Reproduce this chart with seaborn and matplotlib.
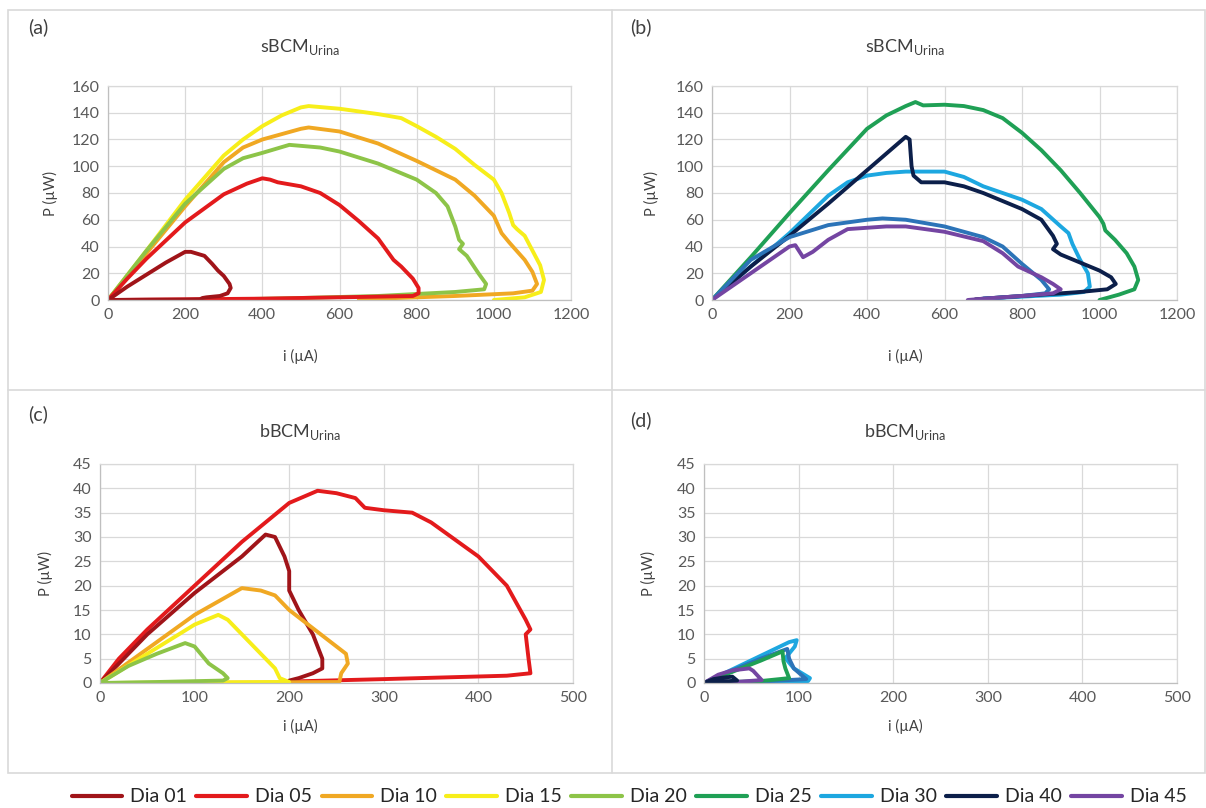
import numpy as np
import pandas as pd
import seaborn as sns
import matplotlib
matplotlib.use("Agg")
import matplotlib.pyplot as plt
from matplotlib.lines import Line2D
from matplotlib.patches import Rectangle

# ---------------- data ----------------
series_names = ["Dia 01", "Dia 05", "Dia 10", "Dia 15", "Dia 20", "Dia 25", "Dia 30", "Dia 40", "Dia 45"]
series_colors = ["#A01419", "#E31A1C", "#F0A823", "#F7EE1A", "#8DC448", "#1FA055", "#1DA7E0", "#0C1F4A", "#7445A2"]
extra_name = "Dia 35"          # unlabelled medium-blue curve
extra_color = "#2C74B8"

# panel (a) sBCM
a_d01_i = [0, 50, 100, 150, 200, 215, 250, 270, 285, 300, 315, 318, 310, 290, 255, 245, 238, 200, 100, 0]
a_d01_p = [0, 10, 19, 28, 36, 36, 33, 27, 22, 18, 12, 9, 5, 3, 2, 1.5, 0.5, 0.3, 0.2, 0]
a_d05_i = [0, 50, 100, 200, 300, 360, 400, 420, 440, 500, 550, 600, 650, 700, 720, 740, 760, 790, 805, 805, 790, 600, 400, 200, 0]
a_d05_p = [0, 16, 31, 58, 79, 87, 91, 90, 88, 85, 80, 71, 59, 46, 38, 30, 25, 16, 9, 5, 3, 2, 1, 0.5, 0]
a_d10_i = [0, 100, 200, 300, 350, 400, 450, 500, 520, 600, 700, 800, 900, 950, 1000, 1020, 1040, 1080, 1100, 1112, 1100, 1050, 900, 750, 650]
a_d10_p = [0, 35, 70, 103, 114, 120, 124, 128, 129, 126, 117, 104, 90, 78, 63, 50, 43, 30, 21, 12, 7, 5, 3, 1.5, 0.5]
a_d15_i = [0, 100, 200, 300, 350, 400, 450, 500, 520, 600, 700, 760, 800, 850, 900, 950, 1000, 1020, 1040, 1050, 1060, 1080, 1100, 1120, 1130, 1122, 1080, 1000]
a_d15_p = [0, 37, 75, 108, 120, 130, 138, 144, 145, 143, 139, 136, 130, 122, 113, 101, 90, 80, 65, 56, 53, 48, 37, 26, 15, 6, 2, 0]
a_d20_i = [0, 100, 200, 300, 350, 400, 470, 550, 600, 700, 800, 850, 880, 900, 910, 920, 910, 930, 960, 980, 975, 900, 700, 500, 330]
a_d20_p = [0, 37, 72, 98, 106, 110, 116, 114, 111, 102, 90, 80, 70, 55, 45, 42, 38, 33, 20, 12, 8, 6, 3, 1.5, 0.5]

# panel (b) sBCM
b_d25_i = [0, 100, 200, 300, 400, 450, 500, 525, 545, 600, 650, 700, 750, 800, 850, 900, 950, 1000, 1010, 1015, 1040, 1070, 1090, 1100, 1090, 1050, 1000]
b_d25_p = [0, 32, 65, 97, 128, 138, 145, 148, 145.5, 146, 145, 142, 136, 125, 112, 97, 80, 62, 57, 52, 45, 35, 25, 15, 8, 4, 0]
b_d30_i = [0, 100, 200, 300, 350, 400, 450, 500, 600, 650, 700, 800, 850, 900, 920, 930, 950, 970, 975, 960, 900, 800, 700]
b_d30_p = [0, 25, 50, 78, 88, 93, 95, 96, 96, 92, 85, 75, 68, 55, 50, 42, 30, 20, 10, 6, 4, 2.5, 1]
b_d40_i = [0, 100, 200, 300, 400, 480, 500, 510, 515, 520, 540, 600, 650, 700, 800, 850, 880, 890, 880, 900, 950, 1000, 1030, 1042, 1020, 950, 850, 750, 680]
b_d40_p = [0, 25, 48, 72, 97, 117, 122, 120, 100, 93, 88, 88, 85, 80, 68, 60, 48, 42, 38, 34, 28, 22, 17, 12, 8, 6, 4, 2, 0.5]
b_d35_i = [0, 100, 200, 300, 400, 440, 500, 600, 700, 750, 800, 850, 870, 860, 800, 700]
b_d35_p = [0, 30, 47, 56, 60, 61, 60, 55, 47, 40, 27, 15, 8, 5, 3, 1]
b_d45_i = [0, 100, 200, 215, 235, 260, 300, 350, 400, 450, 500, 600, 700, 750, 790, 850, 880, 900, 880, 800, 700, 660]
b_d45_p = [0, 20, 40, 41, 32, 36, 45, 53, 54, 55, 55, 51, 44, 35, 25, 17, 12, 8, 5, 3, 1, 0]

# panel (c) bBCM
c_d01_i = [0, 50, 100, 150, 175, 185, 195, 200, 200, 210, 225, 235, 235, 225, 210, 200]
c_d01_p = [0, 10, 18.5, 26, 30.5, 30, 26, 23, 19, 15, 10, 5, 3, 2, 1, 0.5]
c_d05_i = [0, 20, 50, 100, 150, 200, 230, 250, 270, 280, 300, 330, 350, 400, 430, 450, 455, 450, 453, 455, 430, 300, 200]
c_d05_p = [0, 5, 11, 20, 29, 37, 39.5, 39, 38, 36, 35.5, 35, 33, 26, 20, 13, 11, 10, 5, 2, 1.5, 0.8, 0.3]
c_d10_i = [0, 50, 100, 150, 170, 185, 200, 220, 240, 260, 262, 255, 253, 150, 0]
c_d10_p = [0, 7, 14, 19.5, 19, 18, 15, 12, 9, 6, 4, 2, 0.2, 0.1, 0]
c_d15_i = [0, 50, 100, 125, 135, 150, 170, 185, 190, 200, 100, 0]
c_d15_p = [0, 6, 12, 14, 13, 10, 6, 3, 1, 0.2, 0.1, 0]
c_d20_i = [0, 30, 60, 90, 100, 115, 130, 135, 130, 60, 0]
c_d20_p = [0, 3.5, 6, 8.2, 7.5, 4, 2, 1, 0.5, 0.2, 0]

# panel (d) bBCM
d_d25_i = [0, 30, 60, 83, 84, 86, 90, 60, 0]
d_d25_p = [0, 2.3, 4.6, 6.5, 4.5, 3, 1, 0.4, 0]
d_d30_i = [0, 30, 60, 90, 98, 96, 86, 95, 112, 110, 60, 0]
d_d30_p = [0, 2.8, 5.6, 8.4, 8.8, 7.5, 5.1, 3, 1, 0.4, 0.2, 0]
d_d35_i = [0, 30, 60, 88, 90, 95, 108, 60, 0]
d_d35_p = [0, 2.6, 5, 7, 5, 3, 0.8, 0.3, 0]
d_d40_i = [0, 10, 20, 30, 35, 20, 0]
d_d40_p = [0, 0.8, 1.1, 1.3, 0.5, 0.3, 0]
d_d45_i = [0, 15, 30, 48, 52, 61, 40, 0]
d_d45_p = [0, 1.7, 2.6, 3, 2.5, 0.6, 0.3, 0]

panels = {
    "a": [("Dia 15", a_d15_i, a_d15_p), ("Dia 10", a_d10_i, a_d10_p), ("Dia 20", a_d20_i, a_d20_p),
          ("Dia 05", a_d05_i, a_d05_p), ("Dia 01", a_d01_i, a_d01_p)],
    "b": [("Dia 25", b_d25_i, b_d25_p), ("Dia 30", b_d30_i, b_d30_p), ("Dia 40", b_d40_i, b_d40_p),
          ("Dia 35", b_d35_i, b_d35_p), ("Dia 45", b_d45_i, b_d45_p)],
    "c": [("Dia 05", c_d05_i, c_d05_p), ("Dia 01", c_d01_i, c_d01_p), ("Dia 10", c_d10_i, c_d10_p),
          ("Dia 15", c_d15_i, c_d15_p), ("Dia 20", c_d20_i, c_d20_p)],
    "d": [("Dia 30", d_d30_i, d_d30_p), ("Dia 35", d_d35_i, d_d35_p), ("Dia 25", d_d25_i, d_d25_p),
          ("Dia 45", d_d45_i, d_d45_p), ("Dia 40", d_d40_i, d_d40_p)],
}
panel_titles = {"a": "sBCM", "b": "sBCM", "c": "bBCM", "d": "bBCM"}
x_ticks_s = [0, 200, 400, 600, 800, 1000, 1200]
y_ticks_s = [0, 20, 40, 60, 80, 100, 120, 140, 160]
x_ticks_b = [0, 100, 200, 300, 400, 500]
y_ticks_b = [0, 5, 10, 15, 20, 25, 30, 35, 40, 45]

palette = dict(zip(series_names, series_colors))
palette[extra_name] = extra_color

# ---------------- figure ----------------
sns.set_theme(style="white")
plt.rcParams["font.family"] = ["Lato", "DejaVu Sans"]
plt.rcParams["mathtext.fontset"] = "custom"
plt.rcParams["mathtext.rm"] = "Lato"

W, H = 1206, 808
fig = plt.figure(figsize=(W / 100, H / 100), dpi=100)
fig.patch.set_facecolor("white")

def fx(px):
    return px / W

def fy(py):
    return 1 - py / H

# panel frames
frame_col = "#D9D9D9"
fig.add_artist(Rectangle((fx(8), fy(773)), fx(1205) - fx(8), fy(10) - fy(773), transform=fig.transFigure,
                         fill=False, edgecolor=frame_col, linewidth=1.2))
fig.add_artist(Line2D([fx(612), fx(612)], [fy(10), fy(773)], transform=fig.transFigure, color=frame_col, lw=1.2))
fig.add_artist(Line2D([fx(8), fx(1205)], [fy(390), fy(390)], transform=fig.transFigure, color=frame_col, lw=1.2))

# axes rectangles in pixel coords: (left, right, top, bottom)
boxes = {"a": (108, 571, 86, 300), "b": (712, 1177, 86, 300), "c": (100, 573, 464, 683), "d": (704, 1177, 464, 683)}
letters = {"a": (38, 27), "b": (641, 27), "c": (38, 414), "d": (641, 420)}
title_pos = {"a": (300, 47), "b": (905, 47), "c": (300, 432), "d": (905, 432)}
xlabel_pos = {"a": (300, 356), "b": (905, 356), "c": (300, 726), "d": (905, 726)}
ylabel_pos = {"a": (50, 194), "b": (651, 194), "c": (45, 574), "d": (648, 574)}

text_col = "#404040"
tick_col = "#595959"

for key, curves in panels.items():
    l, r, t, b = boxes[key]
    ax = fig.add_axes([fx(l), fy(b), fx(r) - fx(l), fy(t) - fy(b)])
    rows = []
    for order, (name, xs, ys) in enumerate(curves):
        for k, (xv, yv) in enumerate(zip(xs, ys)):
            rows.append({"series": name, "i": xv, "P": yv, "k": k, "order": order})
    df = pd.DataFrame(rows)
    for name, xs, ys in curves:
        sub = df[df["series"] == name]
        sns.lineplot(data=sub, x="i", y="P", sort=False, estimator=None, color=palette[name],
                     linewidth=2.8, ax=ax, legend=False, solid_joinstyle="round", solid_capstyle="round")
    if key in ("a", "b"):
        ax.set_xlim(0, 1200); ax.set_ylim(0, 160)
        ax.set_xticks(x_ticks_s); ax.set_yticks(y_ticks_s)
    else:
        ax.set_xlim(0, 500); ax.set_ylim(0, 45)
        ax.set_xticks(x_ticks_b); ax.set_yticks(y_ticks_b)
    ax.grid(True, color="#D9D9D9", linewidth=0.9)
    ax.set_axisbelow(True)
    for s in ax.spines.values():
        s.set_color("#D9D9D9"); s.set_linewidth(0.9)
    ax.spines["left"].set_color("#BFBFBF")
    ax.spines["bottom"].set_color("#BFBFBF")
    ax.tick_params(axis="both", length=0, labelsize=11.5, labelcolor=tick_col, pad=6)
    ax.set_xlabel(""); ax.set_ylabel("")
    ax.patch.set_alpha(0)

    fig.text(fx(letters[key][0]), fy(letters[key][1]), "(" + key + ")", ha="center", va="center",
             fontsize=14, color=text_col)
    fig.text(fx(title_pos[key][0]), fy(title_pos[key][1]),
             panel_titles[key] + r"$_{\mathregular{Urina}}$", ha="center", va="center", fontsize=13, color=text_col)
    fig.text(fx(xlabel_pos[key][0]), fy(xlabel_pos[key][1]), "i (µA)", ha="center", va="center",
             fontsize=10.5, color=text_col)
    fig.text(fx(ylabel_pos[key][0]), fy(ylabel_pos[key][1]), "P (µW)", ha="center", va="center",
             fontsize=10.5, color=text_col, rotation=90)

handles = [Line2D([0], [0], color=c, lw=3) for c in series_colors]
fig.legend(handles, series_names, loc="center", bbox_to_anchor=(fx(629), fy(797)), ncol=9, frameon=False,
           fontsize=14, handlelength=2.6, handletextpad=0.4, columnspacing=0.5, labelcolor="#262626")

fig.savefig("out.png", dpi=100, facecolor="white")
